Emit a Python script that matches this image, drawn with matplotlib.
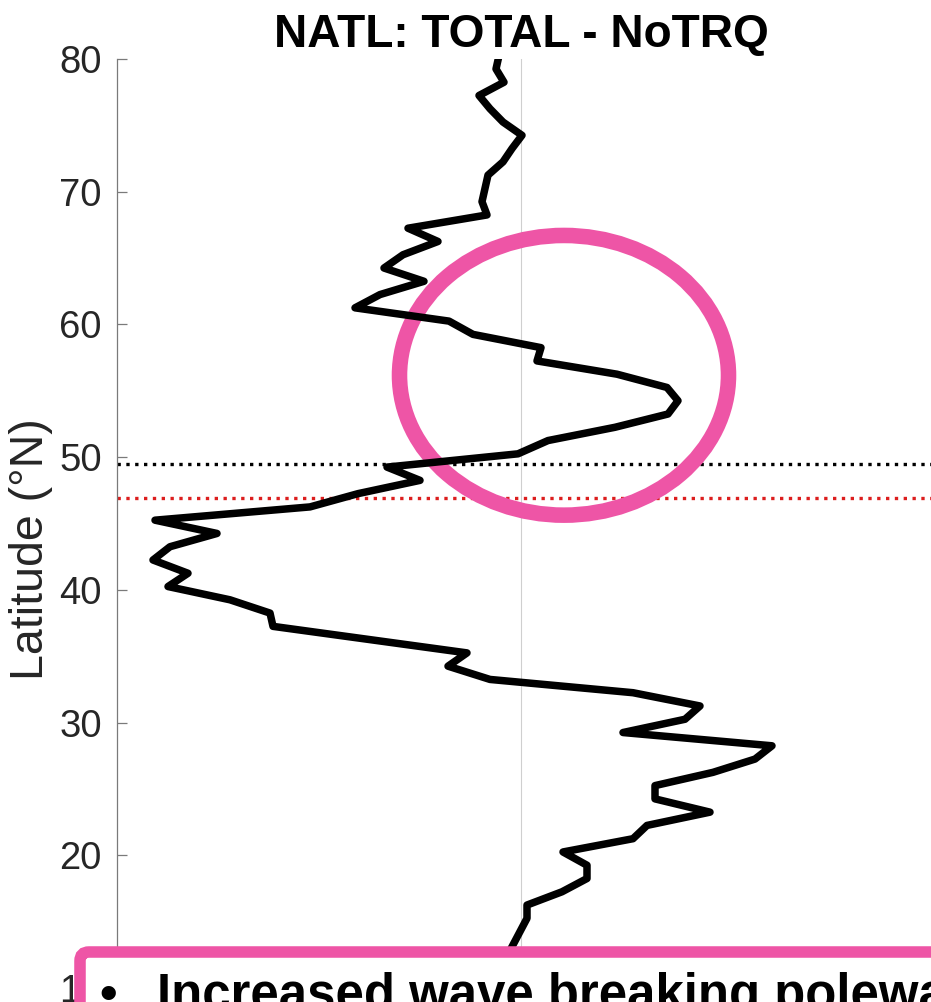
import matplotlib
matplotlib.use("Agg")
import matplotlib.pyplot as plt
from matplotlib.patches import Ellipse, FancyBboxPatch
from matplotlib.transforms import IdentityTransform

plt.rcParams['font.family'] = ['Liberation Sans', 'DejaVu Sans']

# Latitude grid (deg N) and TOTAL - NoTRQ difference profile
latitude = [80.25, 79.25, 78.25, 77.25, 76.25, 75.25, 74.25, 73.25, 72.25, 71.25,
            70.25, 69.25, 68.25, 67.25, 66.25, 65.25, 64.25, 63.25, 62.25, 61.25,
            60.25, 59.25, 58.25, 57.25, 56.25, 55.25, 54.25, 53.25, 52.25, 51.25,
            50.25, 49.25, 48.25, 47.25, 46.25, 45.25, 44.25, 43.25, 42.25, 41.25,
            40.25, 39.25, 38.25, 37.25, 36.25, 35.25, 34.25, 33.25, 32.25, 31.25,
            30.25, 29.25, 28.25, 27.25, 26.25, 25.25, 24.25, 23.25, 22.25, 21.25,
            20.25, 19.25, 18.25, 17.25, 16.25, 15.25, 14.25, 13.25, 12.25]
difference = [-0.22, -0.25, -0.17, -0.42, -0.31, -0.18, 0.01, -0.09, -0.18, -0.33,
              -0.36, -0.39, -0.34, -1.13, -0.83, -1.18, -1.37, -0.97, -1.41, -1.66,
              -0.72, -0.48, 0.20, 0.16, 0.96, 1.46, 1.57, 1.47, 0.94, 0.27,
              -0.03, -1.34, -1.01, -1.63, -2.11, -3.66, -3.04, -3.51, -3.68, -3.33,
              -3.53, -2.91, -2.51, -2.48, -1.51, -0.54, -0.73, -0.31, 1.12, 1.79,
              1.64, 1.02, 2.51, 2.34, 1.92, 1.34, 1.34, 1.89, 1.26, 1.12,
              0.42, 0.66, 0.66, 0.41, 0.06, 0.06, -0.01, -0.08, -0.15]

# Reference latitudes (dotted)
jet_lat_black = 49.5
jet_lat_red = 46.95

lat_ticks = [10, 20, 30, 40, 50, 60, 70, 80]

W, H = 931, 1002
fig = plt.figure(figsize=(W / 100, H / 100), dpi=100)
ax = fig.add_axes([117 / W, (H - 988) / H, (W - 117) / W, (988 - 59) / H])

ax.axvline(0, color='#cfcfcf', lw=0.8, zorder=1)
ax.axhline(jet_lat_black, color='black', lw=2.4, ls=':', zorder=2)
ax.axhline(jet_lat_red, color='#dc1e1e', lw=2.4, ls=':', zorder=2)
ax.plot(difference, latitude, color='black', lw=5.4, solid_joinstyle='round', zorder=4)

ax.set_xlim(-4.04, 4.10)
ax.set_ylim(10, 80)
ax.set_yticks(lat_ticks)
ax.set_xticks([])
for s in ['top', 'right', 'bottom']:
    ax.spines[s].set_visible(False)
ax.spines['left'].set_color('#7a7a7a')
ax.spines['left'].set_linewidth(0.9)
ax.tick_params(axis='y', direction='in', length=7.2, width=0.9, color='#7a7a7a',
               labelsize=27.5, labelcolor='#262626', pad=11)

fig.text(31 / W, 1 - 549 / H, 'Latitude (°N)', rotation=90, ha='center', va='center',
         fontsize=33.5, color='#262626')
fig.text(521 / W, 1 - 47 / H, 'NATL: TOTAL - NoTRQ', ha='center', va='baseline',
         fontsize=33.1, fontweight='bold', color='black')

pink = '#ee55a6'
ring = Ellipse((564, H - 375.3), 329, 279.7, fill=False, ec=pink, lw=11.2,
               transform=IdentityTransform(), clip_on=False, zorder=3)
ax.add_patch(ring)

box = FancyBboxPatch((80, -80), 940, 80 + (H - 952), boxstyle='round,pad=0,rounding_size=9',
                     fc='white', ec=pink, lw=8.3, transform=IdentityTransform(), zorder=5)
fig.add_artist(box)
fig.text(99 / W, -7 / H, '•', ha='left', va='baseline', fontsize=35.8,
         fontweight='bold', color='black', zorder=6)
fig.text(157 / W, -8 / H, 'Increased wave breaking poleward', ha='left', va='baseline',
         fontsize=36.6, fontweight='bold', color='black', zorder=6)

fig.savefig('out.png', dpi=100)
